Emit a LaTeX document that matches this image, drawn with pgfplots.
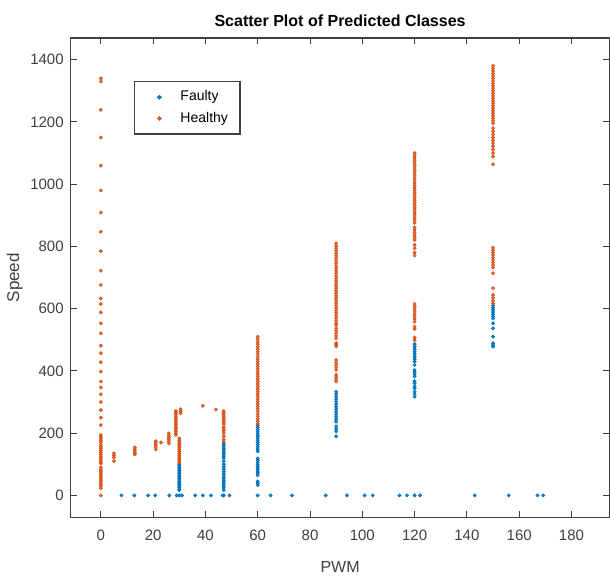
\documentclass[border=0pt]{standalone}
\usepackage{pgfplots}
\pgfplotsset{compat=1.18}
\usepackage{fontspec}
\setmainfont{Liberation Sans}
\definecolor{mblue}{rgb}{0,0.447,0.741}
\definecolor{morange}{rgb}{0.85,0.325,0.098}
\definecolor{axgray}{gray}{0.25}
\pgfplotsset{
  widelegend/.style={legend image code/.code={\path[draw=none, fill=none, mark=none] (0pt,-1pt) (17pt,1pt); \draw[mark repeat=2,mark phase=2, mark size=0.8pt] plot coordinates {(0pt,0pt)(8.5pt,0pt)(17pt,0pt)};}}
}
\begin{document}
\begin{tikzpicture}
\begin{axis}[
  scale only axis,
  width=269pt, height=239.5pt,
  xmin=-11.5, xmax=194.5, ymin=-71, ymax=1470,
  xtick={0,20,...,180}, ytick={0,200,...,1400},
  tick align=inside,
  axis line style={axgray, line width=0.6pt},
  every tick/.style={axgray, line width=0.5pt},
  major tick length=3pt,
  tick label style={font=\fontsize{7.5}{8}\selectfont, text=axgray},
  xticklabel style={yshift=-2.5pt},
  /pgf/number format/assume math mode=true,
  /pgf/number format/1000 sep={},
  title={\rule{0pt}{10pt}\textbf{Scatter Plot of Predicted Classes}},
  title style={font=\fontsize{8}{9}\selectfont, yshift=-4pt},
  xlabel={PWM}, ylabel={Speed},
  xlabel style={font=\fontsize{8}{9}\selectfont, text=axgray, yshift=-4pt},
  ylabel style={font=\fontsize{8.5}{9}\selectfont, text=axgray, yshift=-3pt},
  legend style={at={(0.117,0.91)}, anchor=north west, draw=axgray, line width=0.6pt,
    font=\fontsize{7}{8}\selectfont, row sep=0pt, inner xsep=4pt, inner ysep=2.5pt,
    cells={anchor=west}},
  legend cell align=left,
]
\addplot[only marks, widelegend, mark=*, mark size=0.75pt, mblue, mark options={draw=none, fill=mblue, fill opacity=0.8}] coordinates {
(7.9,0)(12.8,0)(18.1,0)(20.8,0)(26.2,0)(29,0)(30,0)(31,0)(36.1,0)(39,0)(42.1,0)(46.6,0)(47,0)(49.2,0)(60,0)(64.9,0)(73.1,0)(86,0)(94.1,0)(100.9,0)(104,0)(114.2,0)(117.1,0)(120,0)(122.1,0)(143,0)(156,0)(167,0)(169.2,0)
(30,100)(30,95)(30,90)(30,85)(30,80)(30,75)(30,70)(30,65)(30,60)(30,55)(30,50)(30,45)(30,40)(30,35)(30,30)(30,25)(30,20)(30,17)
(47,168)(47,162)(47,156)(47,150)(47,144)(47,138)(47,132)(47,126)(47,120)(47,110)(47,100)(47,92)(47,84)(47,76)(47,68)(47,60)(47,54)(47,48)(47,42)(47,36)(47,30)(47,24)(47,17)
(60,226)(60,219)(60,212)(60,205)(60,198)(60,191)(60,184)(60,177)(60,170)(60,163)(60,156)(60,149)(60,142)(60,119)(60,113)(60,106)(60,99)(60,92)(60,85)(60,78)(60,72)(60,65)(60,45)(60,39)(60,33)
(90,333)(90,325)(90,317)(90,309)(90,301)(90,293)(90,285)(90,277)(90,269)(90,261)(90,253)(90,245)(90,237)(90,222)(90,214)(90,206)(90,190)
(120,486)(120,478)(120,470)(120,462)(120,454)(120,446)(120,438)(120,430)(120,419)(120,403)(120,396)(120,389)(120,382)(120,367)(120,360)(120,350)(120,344)(120,333)(120,325)(120,317)
(150,617)(150,610)(150,603)(150,596)(150,589)(150,582)(150,575)(150,569)(150,553)(150,537)(150,510)(150,489)(150,483)(150,478)
};
\addlegendentry{Faulty}
\addplot[only marks, widelegend, mark=*, mark size=0.75pt, morange, mark options={draw=none, fill=morange, fill opacity=0.7}] coordinates {
(0,1340)(0,1330)(0,1239)(0,1150)(0,1060)(0,980)(0,909)(0,847)(0,785)(0,722)(0,676)(0,633)(0,615)(0,588)(0,553)(0,521)(0,481)(0,457)(0,428)(0,398)(0,366)(0,347)(0,325)(0,300)(0,274)(0,250)(0,226)(0,194)(0,188)(0,182)(0,176)(0,170)(0,162)(0,156)(0,150)(0,144)(0,138)(0,132)(0,126)(0,120)(0,114)(0,108)(0,103)(0,90)(0,84)(0,78)(0,72)(0,66)(0,60)(0,54)(0,48)(0,42)(0,36)(0,30)(0,23)(0,0)
(5,135)(5,128)(5,122)(5,110)
(13,154)(13,148)(13,142)(13,136)(13,132)
(21,174)(21,168)(21,162)(21,155)(21,148)(23,170)
(26,199)(26,192)(26,186)(26,180)(26,174)(26,167)
(28.7,271)(28.7,265)(28.7,259)(28.7,253)(28.7,247)(28.7,241)(28.7,235)(28.7,229)(28.7,223)(28.7,217)(28.7,211)(28.7,205)(28.7,199)(28.7,194)
(30.5,277)(30.5,270)(30.5,264)
(30,183)(30,177)(30,171)(30,165)(30,159)(30,153)(30,147)(30,141)(30,135)(30,129)(30,123)(30,117)(30,111)(30,105)
(39,288)(44,276)
(47,271)(47,265)(47,259)(47,253)(47,247)(47,241)(47,235)(47,229)(47,220)(47,214)(47,208)(47,200)(47,190)(47,180)(47,173)
(60,510)(60,502)(60,494)(60,486)(60,478)(60,470)(60,462)(60,454)(60,446)(60,438)(60,430)(60,422)(60,414)(60,406)(60,398)(60,390)(60,382)(60,374)(60,366)(60,358)(60,350)(60,342)(60,334)(60,326)(60,318)(60,310)(60,302)(60,294)(60,286)(60,278)(60,270)(60,262)(60,254)(60,246)(60,238)(60,230)
(90,810)(90,802)(90,794)(90,786)(90,778)(90,770)(90,762)(90,754)(90,746)(90,738)(90,730)(90,722)(90,714)(90,706)(90,698)(90,690)(90,682)(90,674)(90,666)(90,658)(90,650)(90,642)(90,634)(90,626)(90,618)(90,610)(90,602)(90,594)(90,586)(90,578)(90,570)(90,562)(90,554)(90,548)(90,537)(90,529)(90,521)(90,513)(90,505)(90,489)(90,484)(90,479)(90,435)(90,427)(90,419)(90,411)(90,403)(90,387)(90,380)(90,373)(90,366)
(120,1100)(120,1092)(120,1084)(120,1076)(120,1068)(120,1060)(120,1052)(120,1044)(120,1036)(120,1028)(120,1020)(120,1012)(120,1004)(120,996)(120,988)(120,980)(120,972)(120,964)(120,956)(120,948)(120,940)(120,932)(120,924)(120,916)(120,908)(120,900)(120,892)(120,884)(120,876)(120,861)(120,853)(120,845)(120,837)(120,829)(120,821)(120,805)(120,794)(120,780)(120,771)(120,615)(120,607)(120,599)(120,591)(120,583)(120,575)(120,567)(120,558)(120,542)(120,535)(120,507)(120,499)
(150,1380)(150,1372)(150,1364)(150,1356)(150,1348)(150,1340)(150,1332)(150,1324)(150,1316)(150,1308)(150,1300)(150,1292)(150,1284)(150,1276)(150,1268)(150,1260)(150,1252)(150,1244)(150,1236)(150,1228)(150,1220)(150,1212)(150,1204)(150,1196)(150,1180)(150,1170)(150,1160)(150,1150)(150,1141)(150,1132)(150,1122)(150,1112)(150,1100)(150,1089)(150,1064)(150,796)(150,788)(150,780)(150,772)(150,764)(150,756)(150,748)(150,740)(150,732)(150,714)(150,666)(150,644)(150,635)(150,626)(150,617)
};
\addlegendentry{Healthy}
\end{axis}
\end{tikzpicture}
\end{document}
